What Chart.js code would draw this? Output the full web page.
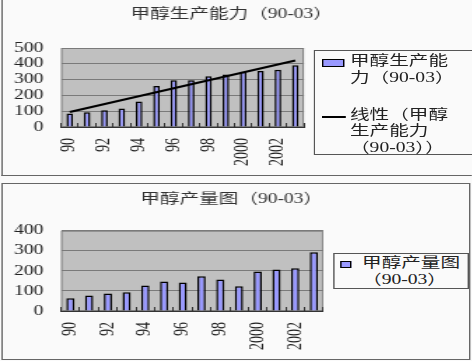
<!DOCTYPE html>
<html>
<head>
<meta charset="utf-8">
<script src="https://cdn.jsdelivr.net/npm/chart.js@4"></script>
<style>
  html, body { margin: 0; padding: 0; background: #fafafa; overflow: hidden; }
  #wrap { position: absolute; left: 0; top: 0; width: 337px; height: 361px;
          transform: scaleX(1.4); transform-origin: 0 0; overflow: hidden; }
  .panel { position: absolute; box-sizing: border-box; background: #fafafa; }
  canvas { position: absolute; left: 0; }
  .legend { position: absolute; box-sizing: border-box; border: 1px solid #555;
            background: #fafafa; font-family: "Liberation Serif", "Noto Sans CJK SC", serif;
            font-size: 14px; color: #222; }
  .item { position: absolute; white-space: nowrap; line-height: 16.5px; }
  .sw { position: absolute; box-sizing: border-box; }
</style>
</head>
<body>
<div id="wrap">
  <div class="panel" style="left:1px; top:-2px; width:400px; height:178px; border-left:1px solid #666; border-bottom:1px solid #666;"></div>
  <canvas id="capChart" width="337" height="176" style="top:0; width:337px; height:176px;"></canvas>
  <div class="legend" id="capLegend" style="left:224px; top:50px; width:130px; height:105px;"></div>

  <div class="panel" style="left:1px; top:183px; width:335px; height:177px; border:1px solid #666;"></div>
  <canvas id="outChart" width="337" height="177" style="top:183px; width:337px; height:177px;"></canvas>
  <div class="legend" id="outLegend" style="left:237.6px; top:252.7px; width:97.6px; height:36.6px;"></div>
</div>
<script>
const years = ['90', '91', '92', '93', '94', '95', '96', '97', '98', '99', '2000', '2001', '2002', '2003'];
// 甲醇生产能力
const capacity = [85, 94, 106, 117, 162, 260, 296, 296, 321, 332, 349, 355, 362, 391];
// trend line, only its two ends
const capTrend = [95, null, null, null, null, null, null, null, null, null, null, null, null, 421];
// 甲醇产量
const output = [64, 77, 87, 93, 127, 147, 142, 173, 157, 123, 197, 207, 213, 293];

const capTitle = '甲醇生产能力（90-03）';
const outTitle = '甲醇产量图（90-03）';
const capLegendLines = [['甲醇生产能', '力（90-03）'], ['线性（甲醇', '生产能力', '（90-03））']];
const outLegendLines = [['甲醇产量图', '（90-03）']];

const barFill = '#9999ff';
const serif = '"Liberation Serif", "Noto Sans CJK SC", serif';

Chart.defaults.font.family = serif;
Chart.defaults.font.size = 14;
Chart.defaults.color = '#222';

const plotBg = {
  id: 'plotBg',
  beforeDraw(chart) {
    const { ctx, chartArea: a } = chart;
    ctx.save();
    ctx.fillStyle = '#c0c0c0';
    ctx.fillRect(a.left, a.top, a.width, a.height);
    ctx.strokeStyle = '#808080';
    ctx.lineWidth = 1;
    ctx.strokeRect(a.left + 0.5, a.top + 0.5, a.width - 1, a.height - 1);
    ctx.restore();
  }
};

function makeOptions(title, titlePad, yMax, plotRight, canvasH, plotBottom) {
  return {
    responsive: false,
    animation: false,
    layout: { padding: { left: 0, right: 6, top: 0, bottom: 0 } },
    plugins: {
      legend: { display: false },
      tooltip: { enabled: false },
      title: {
        display: true,
        text: title,
        color: '#333',
        font: { size: 14, weight: 'normal' },
        padding: titlePad
      }
    },
    scales: {
      x: {
        grid: { offset: true, drawOnChartArea: false, drawTicks: true, tickLength: -4, color: '#333' },
        border: { color: '#333' },
        ticks: {
          autoSkip: false, minRotation: 90, maxRotation: 90, padding: 15,
          callback: (v, i) => (i % 2 === 0 ? years[i] : '')
        },
        afterFit: s => { s.height = canvasH - plotBottom; }
      },
      y: {
        min: 0, max: yMax,
        ticks: { stepSize: 100, padding: 12.6, autoSkip: false },
        grid: { color: '#7a7a7a', drawTicks: false },
        border: { display: false },
        afterFit: s => { s.width = 43.6; }
      },
      yR: {
        position: 'right',
        display: true,
        grid: { display: false },
        border: { display: false },
        ticks: { display: false },
        afterFit: s => { s.width = 337 - 6 - plotRight; }
      }
    }
  };
}

new Chart(document.getElementById('capChart'), {
  type: 'bar',
  data: {
    labels: years,
    datasets: [
      {
        type: 'line',
        label: capLegendLines[1].join(''),
        data: capTrend,
        borderColor: '#000',
        borderWidth: 2,
        pointRadius: 0,
        spanGaps: true,
        order: 1
      },
      {
        label: capTitle,
        data: capacity,
        backgroundColor: barFill,
        borderColor: '#000',
        borderWidth: 1.5,
        barPercentage: 0.38,
        categoryPercentage: 1.0,
        order: 2
      }
    ]
  },
  options: makeOptions(capTitle, { top: 5.6, bottom: 25.6 }, 500, 217.1, 176, 127),
  plugins: [plotBg]
});

new Chart(document.getElementById('outChart'), {
  type: 'bar',
  data: {
    labels: years,
    datasets: [{
      label: outTitle,
      data: output,
      backgroundColor: barFill,
      borderColor: '#000',
      borderWidth: 1.5,
      barPercentage: 0.44,
      categoryPercentage: 1.0
    }]
  },
  options: makeOptions(outTitle, { top: 7.6, bottom: 23.3 }, 400, 230.9, 177, 128),
  plugins: [plotBg]
});

// legends (html, inside the stretched wrapper)
function addItem(box, lines, top, textLeft, swatch) {
  const t = document.createElement('div');
  t.className = 'item';
  t.style.left = textLeft + 'px';
  t.style.top = top + 'px';
  t.innerHTML = lines.join('<br>');
  box.appendChild(t);
  const s = document.createElement('div');
  s.className = 'sw';
  Object.assign(s.style, swatch);
  box.appendChild(s);
}

const capBox = document.getElementById('capLegend');
// coordinates relative to the legend box (left 224, top 50)
addItem(capBox, capLegendLines[0], 2.4, 25, {
  left: '4.5px', top: '7.5px', width: '16.6px', height: '8px',
  background: barFill, border: '1px solid #000'
});
addItem(capBox, capLegendLines[1], 55.7, 25, {
  left: '4.5px', top: '64.7px', width: '17.8px', height: '2px', background: '#000'
});

const outBox = document.getElementById('outLegend');
addItem(outBox, outLegendLines[0], 1.5, 20, {
  left: '4.8px', top: '7.5px', width: '8px', height: '7px',
  background: barFill, border: '1px solid #000'
});
</script>
</body>
</html>
